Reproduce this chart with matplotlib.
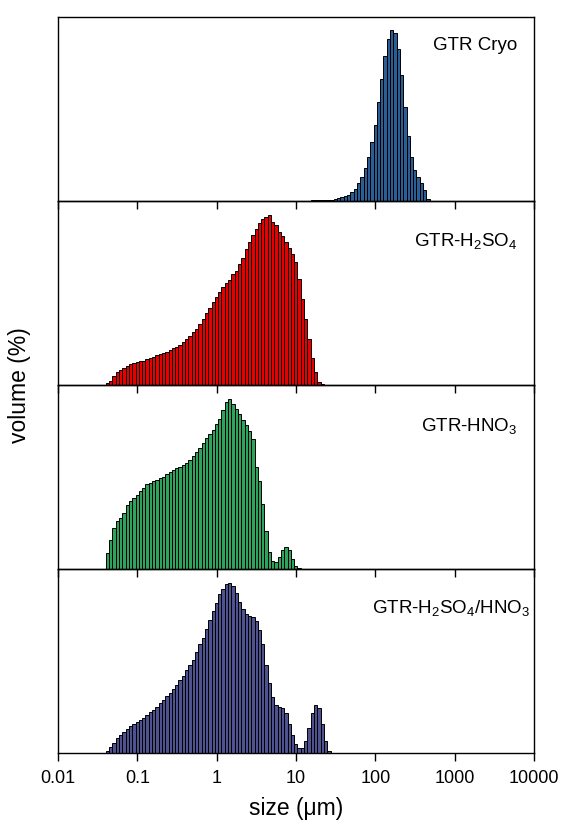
import numpy as np
import matplotlib
matplotlib.use('Agg')
import matplotlib.pyplot as plt

plt.rcParams['font.family'] = ['Liberation Sans', 'DejaVu Sans']
plt.rcParams['mathtext.default'] = 'regular'

# size channels: log spaced, 24 per decade starting at 0.04 um
n_per_dec = 24
size_start = 0.04

# volume (%) per channel
cryo = [0.00, 0.00, 0.00, 0.00, 0.02, 0.02, 0.02, 0.02, 0.02, 0.02,
        0.02, 0.02, 0.02, 0.02, 0.02, 0.02, 0.02, 0.02, 0.02, 0.02,
        0.02, 0.02, 0.02, 0.02, 0.02, 0.02, 0.02, 0.02, 0.02, 0.02,
        0.02, 0.02, 0.02, 0.02, 0.02, 0.02, 0.02, 0.02, 0.02, 0.02,
        0.02, 0.02, 0.02, 0.02, 0.02, 0.02, 0.02, 0.02, 0.02, 0.02,
        0.02, 0.02, 0.02, 0.02, 0.02, 0.02, 0.02, 0.02, 0.02, 0.02,
        0.02, 0.02, 0.03, 0.03, 0.03, 0.04, 0.04, 0.05,
        0.06, 0.10, 0.16, 0.22, 0.28, 0.38, 0.52, 0.72, 1.08, 1.44,
        1.98, 2.64, 3.54, 4.56, 5.94, 7.32, 8.64, 9.66, 10.20, 10.02,
        9.06, 7.56, 5.64, 3.90, 2.64, 1.86, 1.44, 1.08, 0.66, 0.12]

h2so4 = [0.04, 0.08, 0.18, 0.26, 0.30, 0.34, 0.38, 0.42, 0.44, 0.46,
         0.48, 0.48, 0.52, 0.54, 0.56, 0.60, 0.62, 0.64, 0.66, 0.70,
         0.74, 0.76, 0.80, 0.86, 0.92, 0.98, 1.06, 1.12, 1.22, 1.32,
         1.44, 1.54, 1.66, 1.76, 1.86, 1.96, 2.04, 2.10, 2.22, 2.28,
         2.42, 2.54, 2.72, 2.86, 3.00, 3.12, 3.24, 3.32, 3.36, 3.40,
         3.26, 3.20, 3.06, 2.98, 2.86, 2.74, 2.62, 2.46, 2.12, 1.72,
         1.32, 0.92, 0.54, 0.26, 0.06, 0.02]

hno3 = [0.32, 0.58, 0.82, 0.96, 1.02, 1.12, 1.28, 1.36, 1.42, 1.48,
        1.56, 1.62, 1.70, 1.72, 1.76, 1.78, 1.82, 1.84, 1.90, 1.94,
        1.98, 2.02, 2.04, 2.08, 2.12, 2.18, 2.26, 2.34, 2.42, 2.52,
        2.62, 2.70, 2.78, 2.90, 3.00, 3.18, 3.34, 3.40, 3.30, 3.20,
        3.10, 2.98, 2.88, 2.76, 2.60, 2.04, 1.76, 1.30, 0.76, 0.34,
        0.16, 0.14, 0.24, 0.38, 0.44, 0.38, 0.20, 0.06, 0.02]

mixed = [0.04, 0.12, 0.20, 0.30, 0.36, 0.42, 0.48, 0.54, 0.58, 0.62,
         0.66, 0.70, 0.76, 0.82, 0.86, 0.92, 1.00, 1.06, 1.14, 1.20,
         1.28, 1.36, 1.46, 1.54, 1.66, 1.76, 1.86, 2.02, 2.18, 2.30,
         2.48, 2.66, 2.84, 3.00, 3.18, 3.28, 3.38, 3.40, 3.34, 3.20,
         3.02, 2.88, 2.78, 2.74, 2.72, 2.64, 2.46, 2.18, 1.76, 1.40,
         1.12, 0.96, 0.92, 0.90, 0.80, 0.58, 0.36, 0.18, 0.10, 0.10,
         0.24, 0.50, 0.80, 0.96, 0.90, 0.58, 0.24, 0.04]

series = [cryo, h2so4, hno3, mixed]
labels = ['GTR Cryo', 'GTR-H$_2$SO$_4$', 'GTR-HNO$_3$', 'GTR-H$_2$SO$_4$/HNO$_3$']
colors = ['#2b5e94', '#e60000', '#2ea35c', '#4f5290']
ytops = [11.0, 3.67, 3.67, 3.67]
label_pos = [(0.965, 0.845), (0.965, 0.78), (0.965, 0.775), (0.993, 0.79)]
xticks = [0.01, 0.1, 1, 10, 100, 1000, 10000]
xticklabels = ['0.01', '0.1', '1', '10', '100', '1000', '10000']

W, H = 568, 830
fig = plt.figure(figsize=(W/100, H/100), dpi=100)
left, right = 58/W, 534/W
top_px, panel_px = 17, 184

for i, vals in enumerate(series):
    y0 = 1 - (top_px + (i + 1)*panel_px)/H
    ax = fig.add_axes([left, y0, right - left, panel_px/H])
    ax.set_facecolor('none')
    n = len(vals)
    k = np.arange(n)
    lo = size_start * 10**(k / n_per_dec)
    hi = size_start * 10**((k + 1) / n_per_dec)
    ax.bar(lo, vals, width=hi - lo, align='edge', color=colors[i],
           edgecolor='black', linewidth=0.7)
    ax.set_xscale('log')
    ax.set_xlim(0.01, 10000)
    ax.set_ylim(0, ytops[i])
    ax.set_yticks([])
    ax.set_xticks(xticks)
    ax.minorticks_off()
    ax.tick_params(axis='x', direction='out', length=6, width=1,
                   labelsize=13, pad=6)
    if i < 3:
        ax.set_xticklabels([])
    else:
        ax.set_xticklabels(xticklabels)
    for s in ax.spines.values():
        s.set_linewidth(1.0)
    ax.text(label_pos[i][0], label_pos[i][1], labels[i], transform=ax.transAxes,
            ha='right', va='center', fontsize=13.5)

mid = 1 - (top_px + 2*panel_px)/H
fig.text(0.035, mid, 'volume (%)', rotation=90, ha='center',
         va='center', fontsize=16.5)
fig.text((left + right)/2, 1 - 808/H, 'size (\u03bcm)', ha='center',
         va='center', fontsize=16.5)

plt.savefig('out.png', dpi=100)
